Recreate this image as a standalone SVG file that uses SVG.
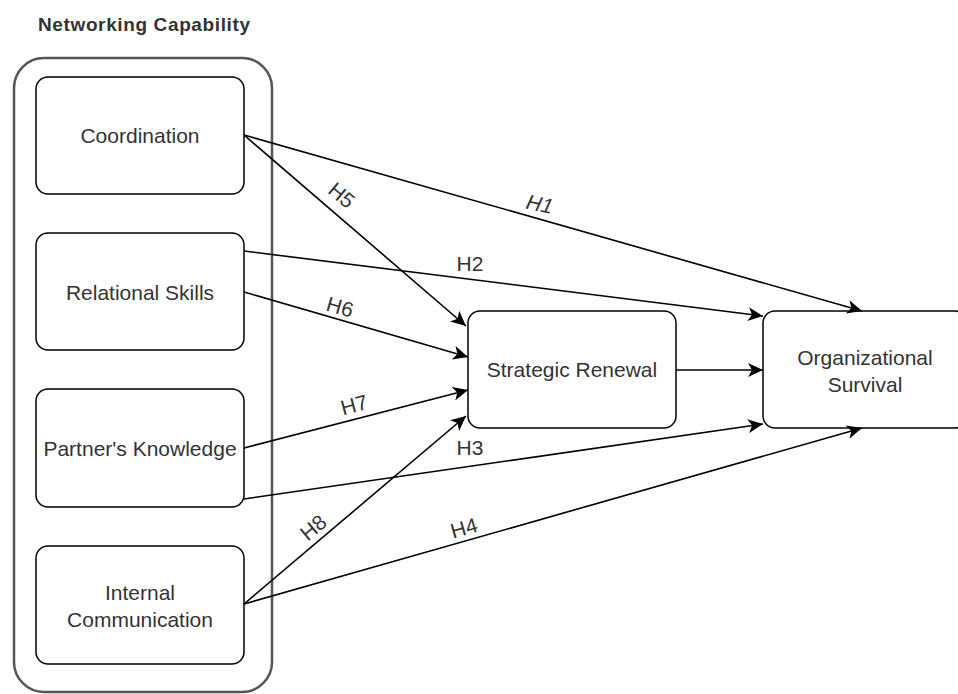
<svg xmlns="http://www.w3.org/2000/svg" width="958" height="694" viewBox="0 0 958 694">
<style>
.box{fill:#fff;stroke:#000;stroke-width:1.5}
.outer{fill:none;stroke:#555;stroke-width:2.5}
.t{font-family:"Liberation Sans",Arial,sans-serif;font-size:21px;fill:#333;text-anchor:middle}
.lbl{font-family:"Liberation Sans",Arial,sans-serif;font-size:21px;fill:#333;text-anchor:middle}
.title{font-family:"Liberation Sans",Arial,sans-serif;font-size:19px;font-weight:bold;fill:#333}
.c{stroke:#000;stroke-width:1.6;fill:none;marker-end:url(#arr)}
</style>
<defs>
<marker id="arr" markerUnits="userSpaceOnUse" markerWidth="16" markerHeight="14" refX="15" refY="7" orient="auto">
<path d="M0,0 L15,7 L0,14 L4,7 Z" fill="#000"/>
</marker>
</defs>
<rect width="958" height="694" fill="#fff"/>
<text class="title" x="38" y="31" textLength="212">Networking Capability</text>
<g id="networking-capability">
<rect class="outer" x="14" y="58" width="258" height="634" rx="30"/>
</g>
<g id="coordination">
<rect class="box" x="36" y="77" width="208" height="117" rx="12"/>
<text class="t" x="140" y="143">Coordination</text>
</g>
<g id="relational-skills">
<rect class="box" x="36" y="233" width="208" height="117" rx="12"/>
<text class="t" x="140" y="300">Relational Skills</text>
</g>
<g id="partners-knowledge">
<rect class="box" x="36" y="389" width="208" height="118" rx="12"/>
<text class="t" x="140" y="456">Partner's Knowledge</text>
</g>
<g id="internal-communication">
<rect class="box" x="36" y="546" width="208" height="118" rx="12"/>
<text class="t" x="140" y="600">Internal</text>
<text class="t" x="140" y="627">Communication</text>
</g>
<g id="strategic-renewal">
<rect class="box" x="468" y="311" width="208" height="117" rx="12"/>
<text class="t" x="572" y="377">Strategic Renewal</text>
</g>
<g id="organizational-survival">
<rect class="box" x="763" y="311" width="204" height="117" rx="12"/>
<text class="t" x="865" y="365">Organizational</text>
<text class="t" x="865" y="392">Survival</text>
</g>
<g id="connectors">
<line class="c" x1="244" y1="135" x2="862" y2="311"/>
<line class="c" x1="244" y1="135" x2="466" y2="326"/>
<line class="c" x1="244" y1="251" x2="763" y2="316"/>
<line class="c" x1="244" y1="292" x2="468" y2="357"/>
<line class="c" x1="676" y1="370" x2="763" y2="370"/>
<line class="c" x1="244" y1="448" x2="468" y2="390"/>
<line class="c" x1="244" y1="499" x2="763" y2="424"/>
<line class="c" x1="244" y1="604" x2="466" y2="416"/>
<line class="c" x1="244" y1="604" x2="862" y2="428"/>
<text class="lbl" transform="translate(537,211) rotate(12) skewX(-12)">H1</text>
<text class="lbl" transform="translate(337,201) rotate(40)">H5</text>
<text class="lbl" x="470" y="271">H2</text>
<text class="lbl" transform="translate(338,314) rotate(16)">H6</text>
<text class="lbl" transform="translate(356,412) rotate(-15)">H7</text>
<text class="lbl" x="470" y="455">H3</text>
<text class="lbl" transform="translate(318,533) rotate(-40)">H8</text>
<text class="lbl" transform="translate(466,535) rotate(-16)">H4</text>
</g>
</svg>
